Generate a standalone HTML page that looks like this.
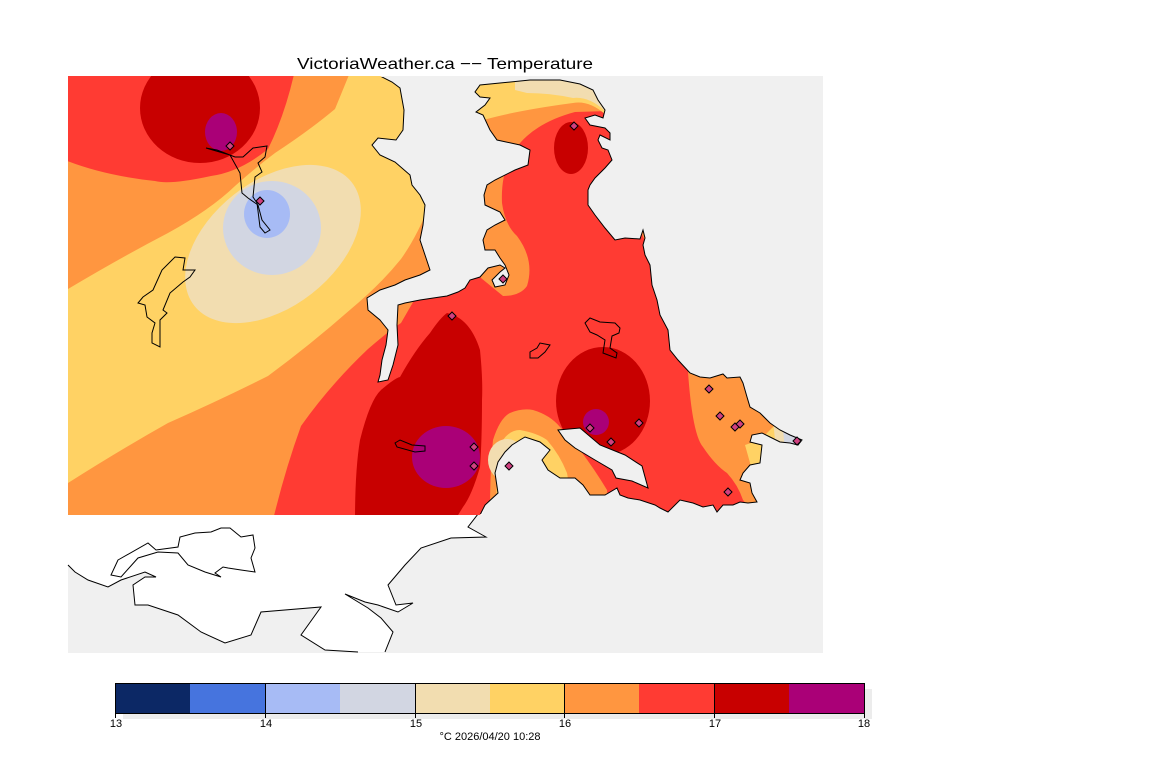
<!DOCTYPE html>
<html><head><meta charset="utf-8"><style>
html,body{margin:0;padding:0;background:#fff}
svg{display:block}
text{font-family:"Liberation Sans",sans-serif}
</style></head><body>
<svg width="1152" height="768" viewBox="0 0 1152 768" xmlns="http://www.w3.org/2000/svg">
<defs>
<clipPath id="land"><path id="lp" d="M68,76 L380,76 L392,82 L400,88 L404,110 L403,130 L396,140 L378,138 L372,145 L380,155 L395,162 L410,175 L412,185 L420,195 L425,205 L423,225 L420,240 L425,255 L430,270 L420,275 L405,280 L395,285 L380,290 L367,298 L368,310 L380,320 L388,330 L386,345 L382,360 L380,375 L378,382 L388,380 L393,365 L398,345 L397,325 L398,305 L405,303 L420,300 L440,297 L447,296 L458,292 L465,288 L470,280 L480,277 L488,268 L500,265 L505,268 L500,272 L492,280 L495,287 L505,285 L509,275 L505,265 L500,258 L495,250 L485,250 L483,240 L487,230 L495,225 L505,220 L500,212 L485,205 L484,195 L487,185 L495,180 L515,170 L528,165 L530,150 L520,145 L497,140 L490,130 L483,115 L476,112 L485,105 L490,98 L480,97 L475,92 L480,85 L500,83 L530,80 L560,80 L580,84 L593,90 L598,100 L605,110 L603,118 L595,115 L585,118 L590,125 L605,128 L610,133 L610,140 L600,135 L598,140 L602,148 L608,150 L612,160 L605,168 L595,178 L590,185 L588,190 L588,205 L595,215 L605,228 L615,240 L625,238 L640,239 L643,230 L645,238 L643,245 L645,255 L650,265 L652,285 L657,300 L660,315 L668,330 L670,350 L678,360 L690,373 L700,377 L710,378 L723,374 L727,378 L740,377 L743,383 L747,397 L750,407 L760,413 L770,423 L780,430 L790,435 L802,440 L798,445 L790,443 L780,442 L770,437 L762,433 L752,435 L750,442 L762,445 L760,463 L750,465 L743,473 L740,480 L750,483 L752,493 L757,502 L748,503 L740,502 L733,505 L723,505 L717,512 L713,505 L703,507 L693,503 L680,500 L675,505 L668,512 L660,508 L655,505 L640,500 L628,498 L620,495 L617,488 L605,495 L590,495 L583,485 L575,478 L560,478 L548,470 L542,460 L550,450 L540,442 L525,437 L520,440 L512,445 L505,452 L498,462 L495,473 L498,493 L485,505 L480,515 L68,515 Z"/></clipPath>
<clipPath id="inner"><rect x="69" y="77" width="760" height="437"/></clipPath>
</defs>
<rect x="68" y="76" width="755" height="577" fill="#f0f0f0"/>
<!-- white land south -->
<path d="M68,515 L482,515 L485,505 L468,527 L486,537 L451,538 L421,548 L405,565 L388,585 L396,605 L413,603 L398,612 L378,605 L365,602 L345,594 L368,608 L381,618 L393,632 L385,652 L358,652 L325,650 L301,635 L321,607 L261,612 L251,635 L225,643 L201,632 L178,615 L148,605 L135,605 L133,585 L145,577 L156,577 L145,572 L121,580 L108,587 L88,580 L75,572 L68,565 Z" fill="#fff"/>
<path d="M485,505 L468,527 L486,537 L451,538 L421,548 L405,565 L388,585 L396,605 L413,603 L398,612 L378,605 L365,602 L345,594 L368,608 L381,618 L393,632 L385,652 M358,652 L325,650 L301,635 L321,607 L261,612 L251,635 L225,643 L201,632 L178,615 L148,605 L135,605 L133,585 L145,577 L156,577 L145,572 L121,580 L108,587 L88,580 L75,572 L68,565" fill="none" stroke="#000" stroke-width="1"/>
<path d="M118,560 L148,543 L156,550 L178,547 L180,537 L195,533 L211,532 L221,528 L230,528 L241,537 L253,535 L255,548 L251,558 L255,572 L241,570 L228,568 L223,567 L215,573 L221,577 L205,572 L188,565 L178,553 L158,552 L138,558 L121,577 L111,575 Z" fill="#fff" stroke="#000" stroke-width="1"/>
<g clip-path="url(#land)">
<rect x="60" y="70" width="770" height="450" fill="#ff9640"/>
<path d="M60,70 L295,70 Q285,115 268,149 Q240,172 211,176 Q170,185 155,181 Q100,175 60,158 Z" fill="#ff3b33"/>
<ellipse cx="200" cy="108" rx="60" ry="55" fill="#c80000"/>
<ellipse cx="221" cy="132" rx="16" ry="19" fill="#aa0077"/>
<path d="M60,292 L68,289 Q120,258 168,233 Q210,210 235,186 Q255,168 275,153 Q310,130 335,109 L351,70 L395,70 L440,100 L430,203 Q418,235 401,259 Q380,285 351,309 Q310,345 268,376 Q220,400 168,423 Q120,450 68,483 L60,490 Z" fill="#ffd264"/>
<ellipse cx="273" cy="244" rx="100" ry="63" transform="rotate(-38 273 244)" fill="#f2ddb0"/>
<ellipse cx="272" cy="228" rx="49" ry="47" fill="#d2d6e2"/>
<ellipse cx="267" cy="214" rx="23" ry="24" fill="#a7bbf5"/>
<path d="M273,520 Q285,470 301,426 Q330,385 368,349 Q390,330 401,323 L420,290 L470,269 L503,296 Q520,296 527,286 Q535,260 517,236 Q505,225 502,203 Q500,160 527,136 Q545,120 575,112 L640,110 L640,230 L700,360 L688,372 Q690,400 693,417 Q697,440 703,447 Q715,465 727,473 Q738,485 743,500 L760,520 Z" fill="#ff3b33"/>
<path d="M465,70 L640,70 L640,118 Q610,114 607,116 Q590,100 573,103 Q520,110 487,119 L465,125 Z" fill="#ffd264"/>
<path d="M515,70 L640,70 L640,115 Q620,113 607,113 Q590,96 573,98 Q550,93 527,93 L515,90 Z" fill="#f2ddb0"/>
<ellipse cx="571" cy="148" rx="17" ry="26" fill="#c80000"/>
<path d="M355,520 Q355,470 360,440 Q370,400 381,390 Q395,378 400,377 Q415,350 430,333 Q440,318 447,313 Q470,318 480,350 Q483,380 482,400 Q482,440 480,467 Q472,495 463,507 L455,520 Z" fill="#c80000"/>
<ellipse cx="446" cy="457" rx="34" ry="31" fill="#aa0077"/>
<ellipse cx="603" cy="401" rx="47" ry="54" fill="#c80000"/>
<ellipse cx="596" cy="422" rx="13" ry="13" fill="#aa0077"/>
<path d="M485,520 L490,513 Q490,470 493,440 Q500,418 510,413 Q522,408 533,410 Q550,415 560,427 Q570,437 580,450 Q595,470 607,490 L610,520 Z" fill="#ff9640"/>
<path d="M495,520 L497,480 Q498,455 503,440 Q510,430 520,430 Q537,433 547,440 Q560,455 567,473 L575,520 Z" fill="#ffd264"/>
<ellipse cx="507" cy="460" rx="19" ry="21" fill="#f2ddb0"/>
<ellipse cx="512" cy="466" rx="13" ry="11" fill="#d2d6e2"/>
<path d="M760,400 L780,420 L760,440 L745,445 L752,470 L762,470 L770,440 L810,450 L810,400 Z" fill="#ffd264"/>
<path d="M772,410 L810,420 L810,450 L785,450 L775,440 Z" fill="#f2ddb0"/>
<path d="M783,430 L810,430 L810,450 L785,450 Z" fill="#d2d6e2"/>
</g>
<g clip-path="url(#inner)"><use href="#lp" fill="none" stroke="#000" stroke-width="1"/></g>
<path d="M558,430 L580,428 L600,445 L625,455 L642,466 L648,488 L632,481 L616,478 L612,470 L595,460 L575,448 L565,440 Z" fill="#f0f0f0" stroke="#000" stroke-width="1"/>
<g fill="none" stroke="#000" stroke-width="1">
<path d="M206,148 L230,155 L240,173 L242,193 L248,198 L258,205 L262,220 L270,230 L265,233 L260,227 L257,203 L253,197 L255,177 L262,172 L258,163 L265,157 L267,146 L253,148 L243,157 L235,157 L217,150 Z"/>
<path d="M175,257 L185,258 L183,270 L195,270 L190,277 L183,282 L170,293 L163,310 L167,313 L160,320 L160,347 L152,343 L152,333 L155,323 L147,317 L145,305 L138,303 L143,297 L153,290 L162,270 Z"/>
<path d="M585,323 L590,318 L600,322 L615,323 L620,328 L619,333 L612,336 L610,348 L617,353 L616,358 L603,353 L605,340 L597,335 L590,332 Z"/>
<path d="M530,352 L537,348 L540,343 L550,345 L545,352 L538,358 L530,358 Z"/>
<path d="M395,443 L400,440 L412,445 L425,446 L425,451 L415,452 L397,447 Z"/>
</g>
<g fill="#d04080" stroke="#000" stroke-width="1">
<path d="M0,-4 L4,0 L0,4 L-4,0 Z" transform="translate(230,146)"/>
<path d="M0,-4 L4,0 L0,4 L-4,0 Z" transform="translate(260,201)"/>
<path d="M0,-4 L4,0 L0,4 L-4,0 Z" transform="translate(574,126)"/>
<path d="M0,-4 L4,0 L0,4 L-4,0 Z" transform="translate(503,279)"/>
<path d="M0,-4 L4,0 L0,4 L-4,0 Z" transform="translate(452,316)"/>
<path d="M0,-4 L4,0 L0,4 L-4,0 Z" transform="translate(474,447)"/>
<path d="M0,-4 L4,0 L0,4 L-4,0 Z" transform="translate(474,466)"/>
<path d="M0,-4 L4,0 L0,4 L-4,0 Z" transform="translate(509,466)"/>
<path d="M0,-4 L4,0 L0,4 L-4,0 Z" transform="translate(590,428)"/>
<path d="M0,-4 L4,0 L0,4 L-4,0 Z" transform="translate(611,442)"/>
<path d="M0,-4 L4,0 L0,4 L-4,0 Z" transform="translate(639,423)"/>
<path d="M0,-4 L4,0 L0,4 L-4,0 Z" transform="translate(709,389)"/>
<path d="M0,-4 L4,0 L0,4 L-4,0 Z" transform="translate(720,416)"/>
<path d="M0,-4 L4,0 L0,4 L-4,0 Z" transform="translate(735,427)"/>
<path d="M0,-4 L4,0 L0,4 L-4,0 Z" transform="translate(740,424)"/>
<path d="M0,-4 L4,0 L0,4 L-4,0 Z" transform="translate(728,492)"/>
<path d="M0,-4 L4,0 L0,4 L-4,0 Z" transform="translate(797,441)"/>
</g>
<text x="297" y="69" font-size="16" textLength="296" lengthAdjust="spacingAndGlyphs">VictoriaWeather.ca −− Temperature</text>
<rect x="123" y="689" width="749" height="30" fill="#ececec"/>
<rect x="115" y="683" width="75" height="30" fill="#0c2865"/>
<rect x="190" y="683" width="75" height="30" fill="#4674de"/>
<rect x="265" y="683" width="75" height="30" fill="#a7bbf5"/>
<rect x="340" y="683" width="75" height="30" fill="#d2d6e2"/>
<rect x="415" y="683" width="75" height="30" fill="#f2ddb0"/>
<rect x="490" y="683" width="74" height="30" fill="#ffd264"/>
<rect x="564" y="683" width="75" height="30" fill="#ff9640"/>
<rect x="639" y="683" width="75" height="30" fill="#ff3b33"/>
<rect x="714" y="683" width="75" height="30" fill="#c80000"/>
<rect x="789" y="683" width="75" height="30" fill="#aa0077"/>
<rect x="115.5" y="683.5" width="749" height="30" fill="none" stroke="#000"/>
<g stroke="#000">
<line x1="115.5" y1="683" x2="115.5" y2="718"/><line x1="265.5" y1="683" x2="265.5" y2="718"/><line x1="415.5" y1="683" x2="415.5" y2="718"/><line x1="564.5" y1="683" x2="564.5" y2="718"/><line x1="714.5" y1="683" x2="714.5" y2="718"/><line x1="864.5" y1="683" x2="864.5" y2="718"/>
</g>
<g font-size="11" text-anchor="middle">
<text x="116" y="727">13</text><text x="266" y="727">14</text><text x="416" y="727">15</text><text x="565" y="727">16</text><text x="715" y="727">17</text><text x="864" y="727">18</text>
</g>
<text x="490" y="740" font-size="11" text-anchor="middle">°C  2026/04/20 10:28</text>
</svg>
</body></html>
